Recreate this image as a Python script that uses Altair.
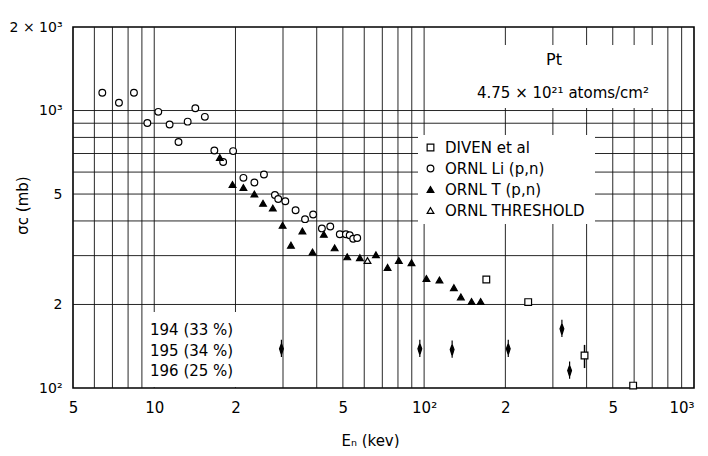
import altair as alt
import pandas as pd

# ---------------- data ----------------
# ORNL Li(p,n)  (open circles)
li_E = [6.42, 7.40, 8.41, 9.43, 10.35, 11.4, 12.3, 13.3, 14.2, 15.4, 16.7, 18.0,
        19.6, 21.4, 23.5, 25.5, 28.0, 28.8, 30.6, 33.4, 36.2, 38.8, 41.8, 44.9,
        48.7, 51.3, 53.0, 54.6, 56.5]
li_sigma = [1159, 1066, 1159, 902, 989, 890, 770, 912, 1019, 949, 718, 652,
            714, 572, 550, 588, 496, 480, 471, 437, 406, 422, 376, 382,
            358, 358, 355, 345, 347]

# ORNL T(p,n)  (filled triangles)
t_E = [17.5, 19.5, 21.4, 23.5, 25.3, 27.5, 29.9, 32.1, 35.4, 38.6, 42.5, 46.6,
       51.9, 57.8, 66.3, 73.2, 80.6, 89.8, 102, 114, 128.9, 136.8, 149.9, 162]
t_sigma = [677, 541, 528, 500, 463, 445, 386, 327, 368, 309, 358, 320,
           297, 295, 302, 272, 288, 283, 248, 245, 230, 213, 205, 205]

# ORNL threshold (open triangle)
thr_E = [61.7]
thr_sigma = [288]

# DIVEN et al (open squares)
diven_E = [170, 243, 393, 595]
diven_sigma = [246, 204, 131, 102]

# error bar on one DIVEN point
err_E = [393]
err_lo = [118]
err_hi = [143]

# resonance arrows
arrow_E = [29.6, 96.4, 127, 205, 324, 346]
arrow_sigma = [139, 139, 138, 139, 164, 116]

# graph-paper grid and tick labels
x_grid = [6, 7, 8, 9, 10, 20, 30, 40, 50, 60, 70, 80, 90, 100,
          200, 300, 400, 500, 600, 700, 800, 900]
y_grid = [200, 300, 400, 500, 600, 700, 800, 900, 1000]
x_ticks = [5, 10, 20, 50, 100, 200, 500, 1000]
x_tick_labels = ["5", "10", "2", "5", "10²", "2", "5", "10³"]
y_ticks = [100, 200, 500, 1000, 2000]
y_tick_labels = ["10²", "2", "5", "10³", "2 × 10³"]

series_names = ["DIVEN et al", "ORNL  Li (p,n)", "ORNL  T (p,n)", "ORNL  THRESHOLD"]
series_shapes = ["square", "circle", "triangle-up", "triangle-up"]
series_fills = ["white", "white", "black", "white"]
series_strokes = ["black", "black", "black", "black"]

title_lines = ["Pt", "4.75 × 10²¹  atoms/cm²"]
isotope_lines = ["194 (33 %)", "195 (34 %)", "196 (25 %)"]

FONT = "DejaVu Sans"


def label_expr(vals, labels):
    expr = "''"
    for v, lab in reversed(list(zip(vals, labels))):
        expr = f"abs(datum.value - {v}) < {v * 0.001} ? '{lab}' : " + expr
    return expr


xs = alt.Scale(type="log", domain=[5, 1000], nice=False)
ys = alt.Scale(type="log", domain=[100, 2000], nice=False)

x_axis = alt.Axis(values=x_ticks, labelExpr=label_expr(x_ticks, x_tick_labels),
                  labelAlign={"condition": {"test": f"datum.value >= {x_ticks[-1] * 0.999}",
                                            "value": "right"},
                              "value": "center"},
                  grid=False, ticks=False, domain=False, labelPadding=12,
                  labelFontSize=15, labelFont=FONT, labelColor="black",
                  labelFlush=False, labelOverlap=False,
                  title="Eₙ (kev)", titleFont=FONT, titleFontSize=15,
                  titleFontWeight="normal", titleColor="black",
                  titleX=297, titleY=52, titleBaseline="middle", titleAlign="center")
y_axis = alt.Axis(values=y_ticks, labelExpr=label_expr(y_ticks, y_tick_labels),
                  grid=False, ticks=False, domain=False, labelPadding=11,
                  labelFontSize=14, labelFont=FONT, labelColor="black",
                  labelFlush=False, labelOverlap=False,
                  title="σc (mb)", titleFont=FONT, titleFontSize=15,
                  titleFontWeight="normal", titleColor="black",
                  titleX=-51, titleY=178, titleAngle=270,
                  titleBaseline="middle", titleAlign="center")


def X(field="E"):
    return alt.X(f"{field}:Q", scale=xs, axis=x_axis)


def Y(field="sigma"):
    return alt.Y(f"{field}:Q", scale=ys, axis=y_axis)


vgrid = alt.Chart(pd.DataFrame({"E": x_grid})).mark_rule(
    color="#111111", strokeWidth=1.0, opacity=0.9).encode(x=X())
hgrid = alt.Chart(pd.DataFrame({"sigma": y_grid})).mark_rule(
    color="#111111", strokeWidth=1.0, opacity=0.9).encode(y=Y())

# white boxes behind annotation text (graph paper interrupted)
box_title = alt.Chart(pd.DataFrame({"a": [0]})).mark_rect(fill="white").encode(
    x=alt.value(392), x2=alt.value(592), y=alt.value(18), y2=alt.value(81))
box_iso = alt.Chart(pd.DataFrame({"a": [0]})).mark_rect(fill="white").encode(
    x=alt.value(73), x2=alt.value(166), y=alt.value(285), y2=alt.value(360))

frames = []
for name, es, ss in [(series_names[0], diven_E, diven_sigma),
                     (series_names[1], li_E, li_sigma),
                     (series_names[2], t_E, t_sigma),
                     (series_names[3], thr_E, thr_sigma)]:
    frames.append(pd.DataFrame({"E": es, "sigma": ss, "series": name}))
pts_df = pd.concat(frames, ignore_index=True)

legend = alt.Legend(orient="none", legendX=345, legendY=108, fillColor="white",
                    labelFont=FONT, labelFontSize=15, labelColor="black",
                    symbolSize=45, symbolStrokeWidth=1.2,
                    rowPadding=5, padding=5, labelOffset=7)

points = alt.Chart(pts_df).mark_point(filled=True, strokeWidth=1.2,
                                      opacity=1, size=45).encode(
    x=X(), y=Y(),
    shape=alt.Shape("series:N", title=None,
                    scale=alt.Scale(domain=series_names, range=series_shapes),
                    legend=legend),
    fill=alt.Fill("series:N", title=None,
                  scale=alt.Scale(domain=series_names, range=series_fills),
                  legend=legend),
    stroke=alt.Stroke("series:N", title=None,
                      scale=alt.Scale(domain=series_names, range=series_strokes),
                      legend=legend),
)

err = alt.Chart(pd.DataFrame({"E": err_E, "lo": err_lo, "hi": err_hi})).mark_rule(
    color="black", strokeWidth=1.5).encode(x=X(), y=Y("lo"), y2="hi:Q")

arrow_path = "M0,-1L0,1M0,-0.55L0.22,0.05L0,0.75L-0.22,0.05Z"
arrows = alt.Chart(pd.DataFrame({"E": arrow_E, "sigma": arrow_sigma})).mark_point(
    shape=arrow_path, filled=True, color="black", stroke="black", strokeWidth=1.2,
    size=300, opacity=1).encode(x=X(), y=Y())

t1 = alt.Chart(pd.DataFrame({"t": [title_lines[0]]})).mark_text(
    font=FONT, fontSize=16, color="black").encode(
    text="t:N", x=alt.value(481), y=alt.value(33))
t2 = alt.Chart(pd.DataFrame({"t": [title_lines[1]]})).mark_text(
    font=FONT, fontSize=15, color="black").encode(
    text="t:N", x=alt.value(490), y=alt.value(66))
iso = alt.Chart(pd.DataFrame({"t": ["\n".join(isotope_lines)]})).mark_text(
    font=FONT, fontSize=15, color="black", align="left", baseline="top",
    lineBreak="\n", lineHeight=20.5).encode(
    text="t:N", x=alt.value(77), y=alt.value(296))

chart = alt.layer(vgrid, hgrid, box_title, box_iso, err, points, arrows, t1, t2, iso).properties(
    width=621, height=361,
    autosize=alt.AutoSizeParams(type="none"),
    padding={"left": 65, "top": 19, "right": 6, "bottom": 60},
    background="white",
).configure_view(stroke="black", strokeWidth=1.6)

chart.save("out.html", embed_options={"renderer": "svg", "actions": False})
